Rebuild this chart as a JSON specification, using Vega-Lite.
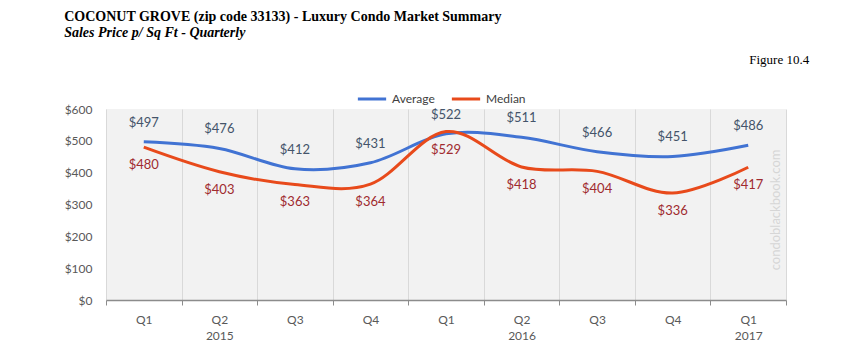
{
  "$schema": "https://vega.github.io/schema/vega-lite/v6.json",
  "background": "white",
  "padding": {"left": 64, "top": 9, "right": 20, "bottom": 5},
  "width": 680,
  "height": 191,
  "datasets": {
    "prices": [
      {"q": "2015 Q1", "series": "Average", "value": 497, "label": "$497"},
      {"q": "2015 Q2", "series": "Average", "value": 476, "label": "$476"},
      {"q": "2015 Q3", "series": "Average", "value": 412, "label": "$412"},
      {"q": "2015 Q4", "series": "Average", "value": 431, "label": "$431"},
      {"q": "2016 Q1", "series": "Average", "value": 522, "label": "$522"},
      {"q": "2016 Q2", "series": "Average", "value": 511, "label": "$511"},
      {"q": "2016 Q3", "series": "Average", "value": 466, "label": "$466"},
      {"q": "2016 Q4", "series": "Average", "value": 451, "label": "$451"},
      {"q": "2017 Q1", "series": "Average", "value": 486, "label": "$486"},
      {"q": "2015 Q1", "series": "Median", "value": 480, "label": "$480"},
      {"q": "2015 Q2", "series": "Median", "value": 403, "label": "$403"},
      {"q": "2015 Q3", "series": "Median", "value": 363, "label": "$363"},
      {"q": "2015 Q4", "series": "Median", "value": 364, "label": "$364"},
      {"q": "2016 Q1", "series": "Median", "value": 529, "label": "$529"},
      {"q": "2016 Q2", "series": "Median", "value": 418, "label": "$418"},
      {"q": "2016 Q3", "series": "Median", "value": 404, "label": "$404"},
      {"q": "2016 Q4", "series": "Median", "value": 336, "label": "$336"},
      {"q": "2017 Q1", "series": "Median", "value": 417, "label": "$417"}
    ],
    "notes": [
      {"t": "condoblackbook.com", "q": "2017 Q1", "v": 283}
    ],
    "fig": [
      {"t": "Figure 10.4", "q": "2017 Q1", "v": 754}
    ]
  },
  "title": {
    "text": "COCONUT GROVE (zip code 33133) - Luxury Condo Market Summary",
    "subtitle": "Sales Price p/ Sq Ft - Quarterly",
    "anchor": "start",
    "font": "Liberation Sans Narrow",
    "fontSize": 14,
    "fontWeight": "bold",
    "color": "#000000",
    "subtitleFont": "Liberation Sans Narrow",
    "subtitleFontSize": 14,
    "subtitleFontWeight": "bold",
    "subtitleFontStyle": "italic",
    "subtitleColor": "#000000",
    "subtitlePadding": 2,
    "offset": 14
  },
  "view": {"fill": "#f2f2f2", "stroke": null},
  "data": {"name": "prices"},
  "encoding": {
    "x": {
      "field": "q",
      "type": "nominal",
      "sort": null,
      "scale": {
        "domain": ["2015 Q1", "2015 Q2", "2015 Q3", "2015 Q4", "2016 Q1", "2016 Q2", "2016 Q3", "2016 Q4", "2017 Q1"],
        "paddingInner": 0,
        "paddingOuter": 0
      },
      "axis": {
        "title": null,
        "grid": true,
        "gridColor": "#d9d9d9",
        "domainColor": "#8c8c8c",
        "domainWidth": 1.5,
        "tickColor": "#8c8c8c",
        "tickSize": 5,
        "tickBand": "extent",
        "labelAngle": 0,
        "labelPadding": 9,
        "labelFont": "Lato",
        "labelFontSize": 12,
        "labelColor": "#595959",
        "labelLineHeight": 16,
        "labelExpr": "datum.value == '2015 Q2' ? ['Q2', '2015'] : datum.value == '2016 Q2' ? ['Q2', '2016'] : datum.value == '2017 Q1' ? ['Q1', '2017'] : (datum.value == '2015 Q1' || datum.value == '2016 Q1') ? 'Q1' : (datum.value == '2015 Q3' || datum.value == '2016 Q3') ? 'Q3' : (datum.value == '2015 Q4' || datum.value == '2016 Q4') ? 'Q4' : ''"
      }
    },
    "y": {
      "field": "value",
      "type": "quantitative",
      "scale": {"domain": [0, 600], "nice": false},
      "axis": {
        "title": null,
        "grid": false,
        "domain": false,
        "ticks": false,
        "values": [0, 100, 200, 300, 400, 500, 600],
        "labelExpr": "'$' + datum.label",
        "labelPadding": 14,
        "labelFont": "Lato",
        "labelFontSize": 12,
        "labelColor": "#595959"
      }
    }
  },
  "layer": [
    {
      "data": {"name": "notes"},
      "mark": {"type": "text", "angle": 270, "dy": 28, "font": "Lato", "fontSize": 13, "color": "#d6d6d6", "align": "center", "baseline": "middle"},
      "encoding": {
        "y": {"field": "v", "type": "quantitative"},
        "text": {"field": "t"}
      }
    },
    {
      "data": {"name": "fig"},
      "mark": {"type": "text", "dx": 61, "font": "Liberation Sans Narrow", "fontSize": 13, "color": "#000000", "align": "right", "baseline": "middle", "clip": false},
      "encoding": {
        "y": {"field": "v", "type": "quantitative"},
        "text": {"field": "t"}
      }
    },
    {
      "mark": {"type": "line", "interpolate": "cardinal", "strokeWidth": 3},
      "encoding": {
        "color": {
          "field": "series",
          "type": "nominal",
          "scale": {"domain": ["Average", "Median"], "range": ["#4173d3", "#e84a1b"]},
          "legend": {
            "orient": "none",
            "legendX": 250,
            "legendY": -26,
            "direction": "horizontal",
            "title": null,
            "symbolType": "stroke",
            "symbolStrokeWidth": 3,
            "symbolSize": 800,
            "labelFont": "Lato",
            "labelFontSize": 12,
            "labelColor": "#404040"
          }
        }
      }
    },
    {
      "transform": [{"filter": "datum.series == 'Average'"}],
      "mark": {"type": "text", "dy": -19, "font": "Lato", "fontSize": 13, "color": "#44546a"},
      "encoding": {
        "text": {"field": "label"}
      }
    },
    {
      "transform": [{"filter": "datum.series == 'Median'"}],
      "mark": {"type": "text", "dy": 18, "font": "Lato", "fontSize": 13, "color": "#a02b2f"},
      "encoding": {
        "text": {"field": "label"}
      }
    }
  ]
}
